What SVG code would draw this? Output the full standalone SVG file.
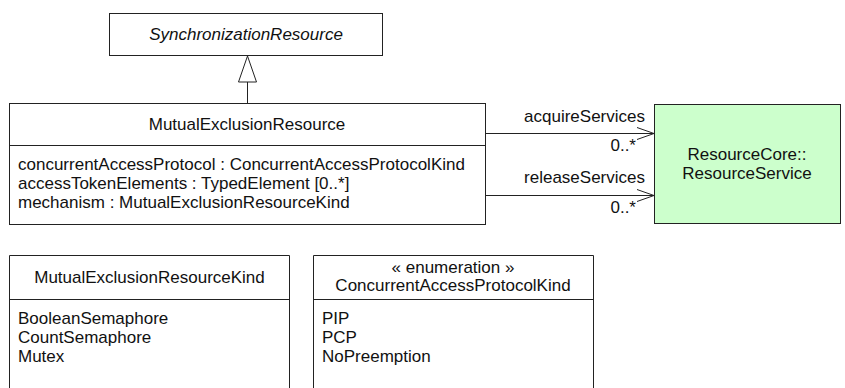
<svg xmlns="http://www.w3.org/2000/svg" width="845" height="388" viewBox="0 0 845 388">
<style>
.box{fill:#fff;stroke:#222;stroke-width:1}
.green{fill:#ccffcc;stroke:#222;stroke-width:1}
.ln{stroke:#222;stroke-width:1;fill:none}
text{font-family:"Liberation Sans",Arial,sans-serif;font-size:17px;fill:#111}
.c{text-anchor:middle}
.r{text-anchor:end}
.i{font-style:italic}
</style>
<rect width="845" height="388" fill="#fff"/>
<g id="SynchronizationResource">
<rect class="box" x="109.5" y="13.5" width="273" height="42"/>
<text class="c i" x="246" y="40">SynchronizationResource</text>
</g>
<g id="MutualExclusionResource">
<rect class="box" x="9.5" y="103.5" width="476" height="121"/>
<line class="ln" x1="9.5" y1="145.5" x2="485.5" y2="145.5"/>
<text class="c" x="247" y="130">MutualExclusionResource</text>
<text x="18" y="170">concurrentAccessProtocol : ConcurrentAccessProtocolKind</text>
<text x="18" y="189">accessTokenElements : TypedElement [0..*]</text>
<text x="18" y="208">mechanism : MutualExclusionResourceKind</text>
</g>
<g id="ResourceService">
<rect class="green" x="654.5" y="104.5" width="186" height="119"/>
<text class="c" x="747" y="160">ResourceCore::</text>
<text class="c" x="747" y="179">ResourceService</text>
</g>
<g id="MutualExclusionResourceKind">
<path class="box" d="M9.5 395 V255.5 H289.5 V395"/>
<line class="ln" x1="9.5" y1="299.5" x2="289.5" y2="299.5"/>
<text class="c" x="149.5" y="283">MutualExclusionResourceKind</text>
<text x="18" y="324">BooleanSemaphore</text>
<text x="18" y="343">CountSemaphore</text>
<text x="18" y="362">Mutex</text>
</g>
<g id="ConcurrentAccessProtocolKind">
<path class="box" d="M313.5 395 V255.5 H593.5 V395"/>
<line class="ln" x1="313.5" y1="299.5" x2="593.5" y2="299.5"/>
<text class="c" x="453" y="273">« enumeration »</text>
<text class="c" x="453" y="291">ConcurrentAccessProtocolKind</text>
<text x="322" y="324">PIP</text>
<text x="322" y="343">PCP</text>
<text x="322" y="362">NoPreemption</text>
</g>
<g id="connectors">
<line class="ln" x1="247.5" y1="82" x2="247.5" y2="103.5"/>
<polygon class="box" points="247.5,56 238.5,82 256.5,82"/>
<line class="ln" x1="485.5" y1="133.5" x2="654.5" y2="133.5"/>
<polyline class="ln" points="637,127.5 654,133.5 637,139.5"/>
<text class="r" x="645" y="122">acquireServices</text>
<text class="r" x="636" y="151">0..*</text>
<line class="ln" x1="485.5" y1="195.5" x2="654.5" y2="195.5"/>
<polyline class="ln" points="637,189.5 654,195.5 637,201.5"/>
<text class="r" x="645" y="183">releaseServices</text>
<text class="r" x="636" y="213">0..*</text>
</g>
</svg>
